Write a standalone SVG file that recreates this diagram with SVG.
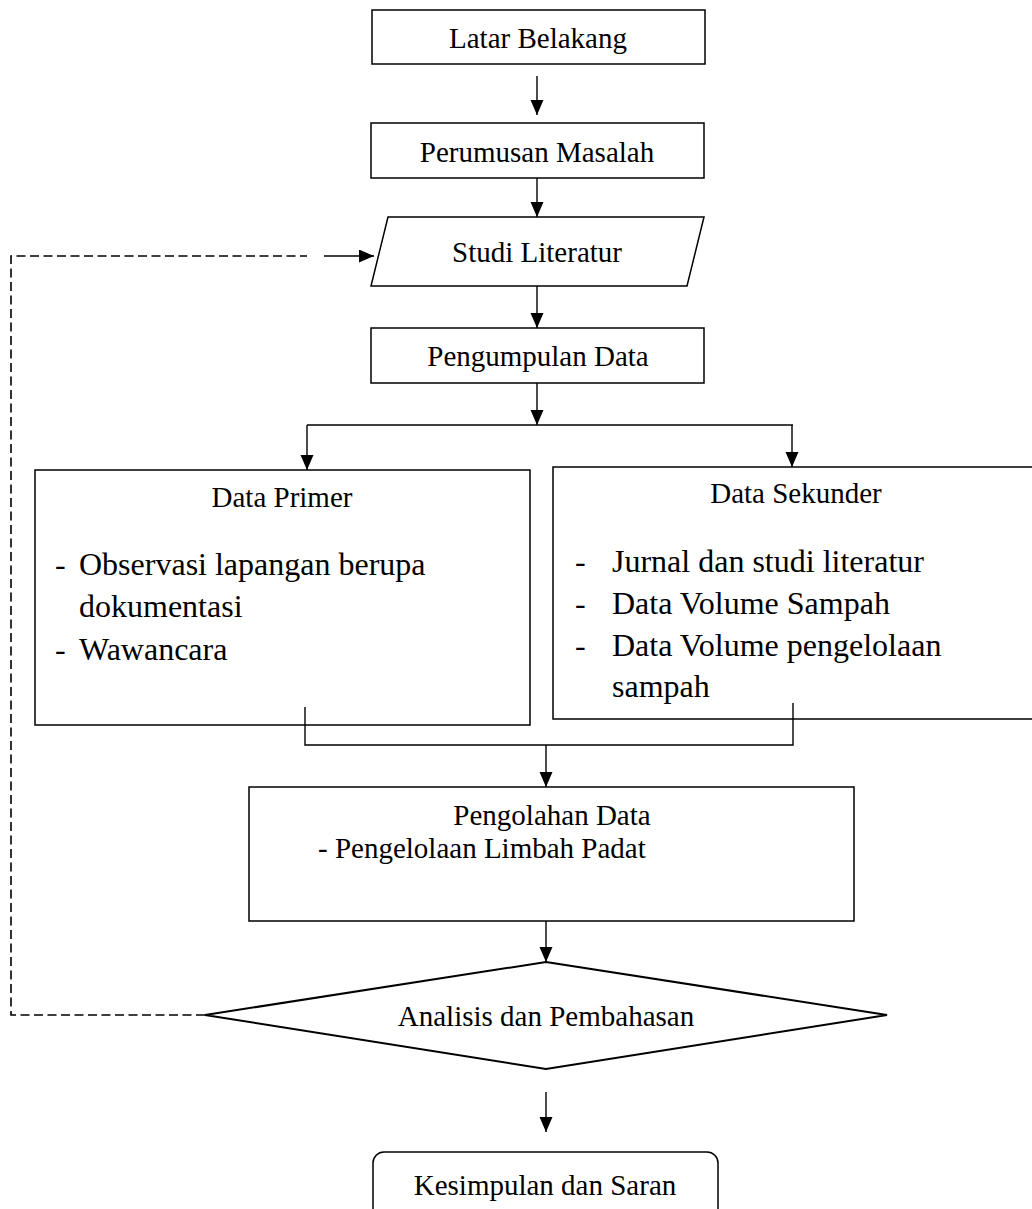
<svg xmlns="http://www.w3.org/2000/svg" width="1032" height="1209" viewBox="0 0 1032 1209">
<defs>
<marker id="arr" markerUnits="userSpaceOnUse" markerWidth="16" markerHeight="14" refX="15" refY="6.5" orient="auto">
<path d="M0,0 L15,6.5 L0,13 z" fill="#000"/>
</marker>
<style>
.box{fill:#fff;stroke:#000;stroke-width:1.5}
.t{font-family:"Liberation Serif","Times New Roman",serif;font-size:29px;fill:#000}
.l{font-family:"Liberation Serif","Times New Roman",serif;font-size:32px;fill:#000}
.c{text-anchor:middle}
.ln{fill:none;stroke:#000;stroke-width:1.4}
.ar{fill:none;stroke:#000;stroke-width:1.4;marker-end:url(#arr)}
.dash{fill:none;stroke:#000;stroke-width:1.6;stroke-dasharray:9 4.5}
</style>
</defs>
<rect width="1032" height="1209" fill="#fff"/>

<g id="latar">
<rect class="box" x="372" y="10" width="333" height="54"/>
<text class="t c" x="538" y="48">Latar Belakang</text>
</g>
<g id="perumusan">
<rect class="box" x="371" y="123" width="333" height="55"/>
<text class="t c" x="537" y="162">Perumusan Masalah</text>
</g>
<g id="studi">
<polygon class="box" points="388,217 704,217 687,286 371,286"/>
<text class="t c" x="537" y="262">Studi Literatur</text>
</g>
<g id="pengumpulan">
<rect class="box" x="371" y="328" width="333" height="55"/>
<text class="t c" x="538" y="366">Pengumpulan Data</text>
</g>
<g id="primer">
<rect class="box" x="35" y="470" width="495" height="255"/>
<text class="t c" x="282" y="507">Data Primer</text>
<text class="l" x="55" y="575">-</text>
<text class="l" x="79" y="575">Observasi lapangan berupa</text>
<text class="l" x="79" y="617">dokumentasi</text>
<text class="l" x="55" y="660">-</text>
<text class="l" x="79" y="660">Wawancara</text>
</g>
<g id="sekunder">
<rect class="box" x="553" y="467" width="500" height="252"/>
<text class="t c" x="796" y="503">Data Sekunder</text>
<text class="l" x="575" y="572">-</text>
<text class="l" x="612" y="572">Jurnal dan studi literatur</text>
<text class="l" x="575" y="614">-</text>
<text class="l" x="612" y="614">Data Volume Sampah</text>
<text class="l" x="575" y="656">-</text>
<text class="l" x="612" y="656">Data Volume pengelolaan</text>
<text class="l" x="612" y="697">sampah</text>
</g>
<g id="pengolahan">
<rect class="box" x="249" y="787" width="605" height="134"/>
<text class="t c" x="552" y="825">Pengolahan Data</text>
<text class="t" x="318" y="858">- Pengelolaan Limbah Padat</text>
</g>
<g id="analisis">
<polygon class="box" style="stroke-width:2" points="546,962 887,1015 546,1069 205,1015"/>
<text class="t c" x="546" y="1026">Analisis dan Pembahasan</text>
</g>
<g id="kesimpulan">
<rect class="box" x="373" y="1152" width="345" height="70" rx="11" ry="11"/>
<text class="t c" x="545" y="1195">Kesimpulan dan Saran</text>
</g>

<g id="connectors">
<line class="ar" x1="537" y1="76" x2="537" y2="115"/>
<line class="ar" x1="537" y1="178" x2="537" y2="217"/>
<line class="ar" x1="537" y1="286" x2="537" y2="328"/>
<line class="ar" x1="537" y1="383" x2="537" y2="425"/>
<line class="ln" x1="307" y1="425" x2="793" y2="425"/>
<line class="ar" x1="307" y1="425" x2="307" y2="470"/>
<line class="ar" x1="792" y1="425" x2="792" y2="467"/>
<polyline class="ln" points="305,707 305,745 793,745 793,703"/>
<line class="ar" x1="546" y1="745" x2="546" y2="787"/>
<line class="ar" x1="546" y1="921" x2="546" y2="962"/>
<line class="ar" x1="546" y1="1092" x2="546" y2="1132"/>
<polyline class="dash" points="205,1015 11,1015 11,256 307,256"/>
<line class="ar" x1="324" y1="256" x2="374" y2="256"/>
</g>
</svg>
